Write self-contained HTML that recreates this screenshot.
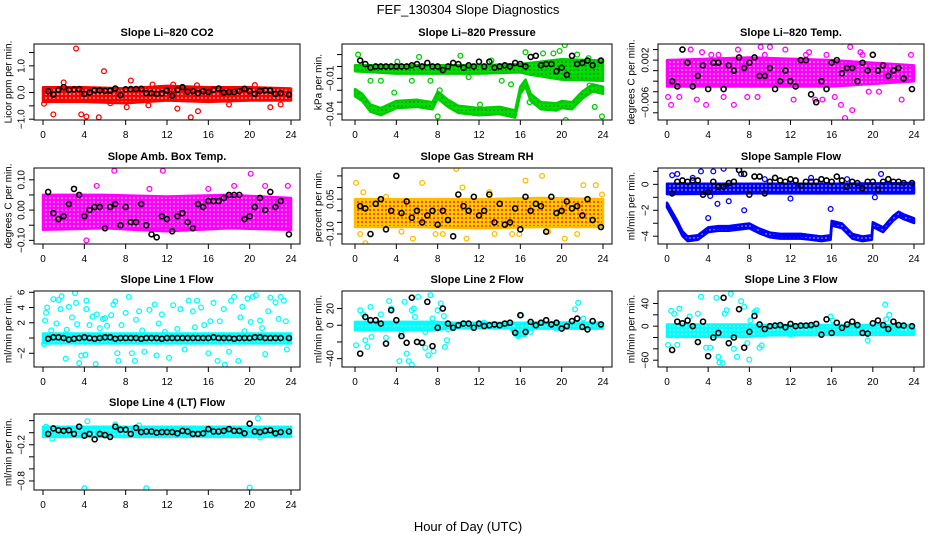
<!DOCTYPE html>
<html><head><meta charset="utf-8"><style>
html,body{margin:0;padding:0;background:#fff;}
svg{display:block;font-family:"Liberation Sans",sans-serif;}
</style></head><body>
<svg id="chart" width="936" height="540" viewBox="0 0 936 540" xmlns="http://www.w3.org/2000/svg">
<defs>
<pattern id="pat-red" width="4" height="4" patternUnits="userSpaceOnUse"><rect width="4" height="4" fill="#f00"/><circle cx="2" cy="2" r="0.8" fill="#fff"/></pattern>
<pattern id="pat-green" width="4" height="4" patternUnits="userSpaceOnUse"><rect width="4" height="4" fill="#0d0"/><circle cx="2" cy="2" r="0.7" fill="#050"/></pattern>
<pattern id="pat-magenta" width="4" height="4" patternUnits="userSpaceOnUse"><rect width="4" height="4" fill="#f0f"/><circle cx="2" cy="2" r="0.8" fill="#fff"/></pattern>
<pattern id="pat-orange" width="4" height="4" patternUnits="userSpaceOnUse"><rect width="4" height="4" fill="#ffd000"/><circle cx="2" cy="2" r="1.2" fill="#f40"/></pattern>
<pattern id="pat-blue" width="4" height="4" patternUnits="userSpaceOnUse"><rect width="4" height="4" fill="#00f"/><circle cx="2" cy="2" r="0.7" fill="#fff"/></pattern>
<pattern id="pat-cyan" width="4" height="4" patternUnits="userSpaceOnUse"><rect width="4" height="4" fill="#0ff"/><circle cx="2" cy="2" r="0.7" fill="#fff"/></pattern>
</defs>
<text x="468" y="14" font-size="13" text-anchor="middle">FEF_130304  Slope Diagnostics</text>
<text x="468" y="531" font-size="13" text-anchor="middle">Hour of Day (UTC)</text>
</svg>
<script>
const blackHours = [0.5,1,1.5,2,2.5,3,3.5,4,4.5,5,5.5,6,6.5,7,7.5,8,8.5,9,9.5,10,10.5,11,11.5,12,12.5,13,13.5,14,14.5,15,15.5,16,16.5,17,17.5,18,18.5,19,19.5,20,20.5,21,21.5,22,22.5,23,23.8];
const xTicks = [0,4,8,12,16,20,24];

const co2BandHours = [0,4,8,12,16,20,24];
const co2BandLo = [-0.35,-0.35,-0.4,-0.3,-0.35,-0.3,-0.3];
const co2BandHi = [0.2,0.2,0.15,0.25,0.2,0.2,0.15];
const co2Outliers = [[3.2,1.65],[5.9,0.8],[8.5,0.45],[1,-0.82],[3.7,-0.82],[4.2,-0.9],[5.4,-0.93],[14.3,-0.93],[15,-0.7],[8.1,-0.55],[0.1,-0.42],[10.2,-0.48],[13,-0.6],[22,-0.55],[23,-0.45],[2,0.38],[10.6,0.3],[14.9,0.27],[6.5,-0.4],[18,-0.45],[12.6,0.3],[20.5,0.28]];
const co2Black = [0.05,-0.08,0.1,0.2,0.1,0.12,0.13,-0.05,0,0.08,0.08,0.06,0.07,0.15,-0.1,0.12,0.13,0.13,0.14,-0.02,-0.02,-0.05,-0.03,0.07,-0.12,0.1,0.2,0.03,0.05,-0.02,0.05,0.02,0.1,0.15,0,0.02,0.02,0.05,0.14,0.05,-0.05,0.06,0.08,0.07,-0.05,-0.02,-0.08];

const presBandAHours = [0,4,8,12,16,17,20,24];
const presBandALo = [-0.004,-0.006,-0.006,-0.006,-0.005,-0.007,-0.011,-0.012];
const presBandAHi = [0.001,0.001,0.001,0.001,0.002,0.003,0.006,0.005];
const presBandBHours = [0,0.7,1.5,2.5,4,6,7.5,8,9,10,12,14,15.5,16,16.5,17,18,19.5,20,21,22,23,24];
const presBandBLo = [-0.025,-0.029,-0.038,-0.041,-0.035,-0.034,-0.036,-0.027,-0.034,-0.039,-0.041,-0.040,-0.043,-0.023,-0.017,-0.029,-0.036,-0.037,-0.035,-0.036,-0.027,-0.021,-0.023];
const presBandBHi = [-0.019,-0.023,-0.032,-0.035,-0.029,-0.028,-0.030,-0.021,-0.028,-0.033,-0.035,-0.034,-0.037,-0.017,-0.011,-0.023,-0.030,-0.031,-0.029,-0.030,-0.021,-0.015,-0.017];
const presOutliers = [[0.3,0.01],[1.5,-0.012],[2.5,-0.012],[3.8,-0.022],[4.1,0.004],[5.5,-0.012],[6.2,0.008],[7.3,-0.012],[8,-0.042],[8.2,-0.02],[10.2,0.009],[11,-0.009],[12.1,-0.032],[13.2,0.005],[14.2,-0.012],[15.1,-0.015],[16.5,0.012],[18.2,0.011],[19.2,0.011],[19.8,0.013],[20.3,0.018],[20.4,-0.045],[21.5,0.01],[22.6,0.007],[23.2,-0.034],[23.9,-0.042],[18.6,-0.004],[21.2,-0.008],[22.7,-0.016],[16.9,-0.03]];
const presBlack = [0.005,0.002,-0.001,0,0,0,0,0,0,0,0.001,0.002,0,0.003,0,0,-0.003,0,0.003,0.002,-0.001,0.001,0,0.004,0,0.004,-0.001,0,0.001,0,0.003,0.002,0,0.008,0.009,0.001,0.002,0.002,-0.004,-0.001,-0.007,0.009,0.002,0.003,0.005,0.001,0.005];

const tempBandHours = [0,8,16,24];
const tempBandLo = [-0.003,-0.003,-0.003,-0.002];
const tempBandHi = [0.002,0.0025,0.002,0.001];
const tempOutliers = [[0.1,-0.005],[0.4,-0.0065],[1.2,-0.005],[2.3,0.004],[2.9,-0.0055],[3.8,-0.0065],[4.3,0.003],[5.5,-0.005],[6.5,-0.0065],[6.9,0.004],[7.8,-0.005],[8.8,-0.005],[9.1,0.0045],[10,0.0045],[11.3,0.0065],[12.3,-0.0055],[13.5,0.003],[14.4,-0.0055],[15.1,-0.0055],[16.3,-0.005],[16.9,-0.0065],[17,0.0055],[17.3,-0.009],[18,-0.0075],[17.8,0.0045],[18.8,0.0035],[19.6,-0.004],[20.6,-0.004],[22.6,0.0055],[22.8,-0.0055],[23.7,0.003],[11.5,0.004],[5,0.003],[9.5,0.003],[13.8,0.0035],[15.5,0.003],[19,0.003],[3.4,0.0035]];
const tempBlack = [-0.002,-0.003,0.004,0.0015,-0.003,-0.001,0.001,-0.0035,0.0015,0.0015,-0.0035,0.001,0,0.0025,0.0005,0.0015,0.0025,-0.001,-0.001,0.0005,-0.0035,-0.002,0.0,-0.002,-0.003,0.002,0.002,-0.0045,-0.006,-0.002,-0.0035,0.0015,0.002,-0.0005,0.0005,0.0005,-0.002,0.0015,0.0,0.003,0,0.001,-0.001,0,0.0005,-0.0015,-0.0035];

const ambBandHours = [0,6,12,18,24];
const ambBandLo = [-0.065,-0.06,-0.07,-0.06,-0.065];
const ambBandHi = [0.05,0.05,0.045,0.05,0.04];
const ambOutliers = [[0.1,-0.13],[0.2,-0.15],[1.5,-0.18],[2,-0.18],[3.2,-0.19],[5.2,0.08],[6.2,-0.2],[7,-0.17],[6.9,0.13],[8,-0.19],[11.6,0.13],[12.3,-0.15],[13,-0.13],[14.5,-0.13],[16,0.07],[17.3,-0.13],[18.5,0.08],[20.1,0.12],[21.5,0.08],[23.7,0.08],[24,-0.17],[10.3,0.07],[9.3,-0.12],[4.2,-0.1]];
const ambBlack = [0.06,-0.01,-0.03,-0.02,0.02,0.07,0.05,-0.02,0.0,0.01,0.01,-0.06,0.01,0.02,-0.05,0.01,-0.04,-0.04,0.02,-0.05,-0.08,-0.09,-0.02,-0.03,-0.07,-0.02,-0.01,-0.04,-0.06,0.02,0.01,0.03,0.03,0.03,0.04,0.05,0.05,0.05,-0.03,-0.02,0.01,0.04,0.0,0.06,0.01,0.03,-0.08];

const rhBandHours = [0,6,12,18,24];
const rhBandLo = [-0.07,-0.07,-0.075,-0.07,-0.07];
const rhBandHi = [0.05,0.05,0.05,0.055,0.05];
const rhOutliers = [[0.1,0.12],[0.5,-0.1],[1,-0.14],[0.8,0.08],[4.5,-0.09],[5.6,-0.12],[6.5,0.12],[7.8,-0.1],[8.5,-0.1],[9.8,0.18],[10.4,0.1],[10.8,-0.12],[13.5,-0.1],[15.2,-0.1],[15.9,-0.1],[16.5,0.13],[18.1,0.15],[18.7,-0.09],[20.3,-0.12],[21.5,-0.1],[22.1,0.11],[23.3,0.11],[23.9,0.07],[13,0.08],[3,0.06]];
const rhBlack = [0.02,0.01,-0.1,0.03,0.05,-0.08,0.0,0.15,-0.01,0.04,-0.03,0.0,-0.05,-0.02,0.0,-0.06,0.0,-0.04,-0.11,0.07,0.02,0.0,0.06,-0.02,0.0,0.07,-0.05,0.03,-0.06,-0.05,0.01,-0.08,0.06,0.0,0.03,0.02,-0.09,0.06,-0.01,0.0,0.04,0.01,0.02,-0.02,0.05,-0.04,-0.07];

const sfBandAHours = [0,8,16,24];
const sfBandALo = [-0.75,-0.7,-0.7,-0.7];
const sfBandAHi = [0.05,0.05,0.05,0.1];
const sfBandBHours = [0,0.5,1,1.5,2,3,4,5,6,7,8,9,10,11,12,13,14,15,15.9,16,17,18,19,19.9,20,21,22,22.5,23,24];
const sfBandBMid = [-1.6,-2.3,-3,-3.8,-4.2,-4.1,-3.5,-3.4,-3.4,-3.3,-3.2,-3.6,-3.9,-4.0,-4.0,-4.0,-4.1,-4.2,-4.1,-3.0,-3.2,-4.0,-4.2,-4.1,-3.1,-3.5,-2.6,-2.3,-2.5,-2.8];
const sfOutliers = [[0.5,0.7],[1,0.8],[3.3,1.0],[4,-2.6],[4.5,1.0],[4.9,-1.5],[5.5,1.2],[6,-1.3],[6.8,1.4],[7.5,-2.0],[7.2,0.8],[9.5,0.4],[12,-1.1],[15.9,-1.9],[20.2,-1.0],[20.8,0.8],[14,0.5],[17.5,0.4],[2.5,0.5],[4.2,-0.9]];
const sfBlack = [-0.7,0.2,0.3,0.2,0.3,0.3,-0.8,-0.6,0.2,-0.2,-0.2,0.1,0.2,1.1,0.8,-0.8,0.6,0.6,-0.7,0.2,0.5,0.3,0.2,0.4,0.3,-0.1,0.2,0.2,0.2,0.4,0.3,0.2,0.6,0.3,-0.2,0.2,0.1,-0.3,0.2,0.2,-0.4,0.2,0.4,0.2,0.2,0.1,0.1];

const l1BandHours = [0,24];
const l1BandLo = [-0.7,-0.7];
const l1BandHi = [0.6,0.6];
const l1Outliers = [[0.1,-0.8],[0.2,2.3],[0.3,3.3],[0.4,4],[0.8,1],[1,5.1],[1.3,1.9],[1.5,5],[1.7,3.8],[1.8,5.5],[2.2,-2.7],[2.3,1.1],[2.5,4.1],[2.8,2.7],[3.1,5.9],[3.2,4.6],[3.3,1.8],[3.5,-3.3],[3.7,-2.3],[4.1,-2.2],[4.2,3.8],[4.2,4.9],[4.5,1.7],[4.8,2.8],[5.1,-3.4],[5.2,3.1],[5.5,1.3],[5.8,2.5],[6.2,1.6],[6.6,3],[6.8,4.4],[7,4.8],[7.2,-2],[7.3,-3],[7.6,1.7],[8,3.3],[8.3,5.4],[8.6,-2],[8.9,-3],[9,2.4],[9.3,3.5],[9.8,-1.8],[10.3,3.7],[10.8,4.4],[11,-2.3],[11.2,1.9],[11.5,3.1],[12.2,-2.6],[12.6,4.3],[13,1.2],[13.3,3.8],[13.7,-1.5],[14.1,4.9],[14.5,3.5],[14.9,4.9],[15.3,4],[15.6,1.7],[16,-2],[16.2,2.2],[16.5,4.6],[16.9,-3],[17.1,2.2],[17.5,3.8],[17.6,-3.5],[18,-1.8],[18.2,4.9],[18.5,5.4],[18.9,-3],[19.1,2.7],[19.3,4.1],[19.8,5.2],[20.1,2.1],[20.3,5.4],[20.6,5.6],[21,2.3],[21.5,-2.1],[21.8,3.5],[22,5.3],[22.5,4.7],[22.8,2.5],[23,5.4],[23.3,4.9],[23.6,-1.5],[23.5,2.2],[6,2.6],[9.6,1],[11.8,0.8],[14.7,1.4],[19.5,0.9],[21.2,1.3]];
const l1Black = [-0.1,0.1,0.1,0,-0.2,-0.1,0,0.1,0,-0.1,0,0.1,0.1,-0.1,0,0,0,0,-0.1,0,0,0,-0.1,0,0,0,0,0,0,0,0,0,0.1,0,0,0,-0.1,0,0,0,0.1,0.1,0,0,0,0,0];

const l2BandHours = [0,8,9,15,15.5,16.5,17,24];
const l2BandLo = [-6,-6,-3.5,-3.5,-13,-13,-4,-4];
const l2BandHi = [4,4,3,3,3,3,3.5,3];
const l2Outliers = [[0.1,-24],[0.5,18],[0.8,13],[1,-18],[1.2,-26],[1.5,22],[1.6,-14],[2.5,13],[3,-15],[3.3,29],[3.5,20],[4.3,-43],[4.5,-10],[4.8,28],[5,-34],[5.2,-43],[5.5,-47],[5.5,18],[5.8,10],[5.7,20],[6.1,34],[6.5,-21],[6.8,-27],[6.8,-8],[7.1,-36],[7.3,36],[7.6,-31],[7.5,8],[8,18],[8.3,26],[8.6,11],[8.9,-18],[8.7,-26],[9,-5],[15.8,-13],[16.1,12],[19.5,-4],[21.3,19],[21.6,27],[22.1,8],[17,-8],[12.5,3]];
const l2Black = [-34,10,6,6,2,-22,18,6,-13,-21,33,-20,-21,28,-25,-3,20,2,-3,0,2,2,-3,2,-1,0,1,0,2,3,-9,12,-8,4,0,3,6,1,3,-4,-1,5,8,-2,-5,5,1];

const l3BandHours = [0,8,10,24];
const l3BandLo = [-19,-19,-16,-15];
const l3BandHi = [3,3,2,2];
const l3Outliers = [[0.1,-33],[0.4,27],[0.7,22],[1,-33],[1.2,31],[2.2,17],[3,22],[3.3,52],[3.8,-38],[4.2,-38],[4.8,50],[5,-54],[5.1,-64],[5.4,-65],[5.6,22],[5.8,28],[6.2,57],[6.5,-40],[6.8,-54],[7.2,44],[7.5,34],[7.8,-30],[8,-59],[8.1,10],[8.5,25],[8.7,28],[9,-38],[9.2,-34],[15.9,17],[16.1,10],[19.5,-25],[21.2,38],[21.3,12],[21.6,20],[22.2,-5],[17.5,-10],[12,-15]];
const l3Black = [-42,8,5,10,0,-28,8,-53,-20,-12,50,-30,-20,30,-38,-10,18,3,-5,0,1,2,-2,4,0,1,1,2,4,-15,12,-12,6,-3,3,8,2,-12,-13,5,10,2,-5,8,2,1,0];

const l4BandHours = [0,24];
const l4BandLo = [-0.07,-0.07];
const l4BandHi = [0.1,0.1];
const l4Outliers = [[4,-0.92],[10,-0.92],[20,-0.91],[20.8,0.24],[4.3,0.19],[0.9,-0.1],[21,-0.08],[7,0.14],[0.3,0.1],[9.3,0.12]];
const l4Black = [-0.02,0.07,0.04,0.03,0.04,-0.02,0.1,-0.05,-0.02,-0.11,-0.02,-0.04,-0.07,0.1,0.05,0.05,-0.02,0.08,0.01,0.02,0.02,0,0.01,0.01,0.01,-0.01,0.03,0.02,-0.02,-0.02,-0.01,0.06,0.02,0.02,0.03,0.06,0.03,0.03,-0.01,0.15,0.02,0.01,0.03,0.04,-0.01,0.01,0.02];

const sfBandBLo = sfBandBMid.map(v => v - 0.18);
const sfBandBHi = sfBandBMid.map(v => v + 0.18);

const cols = [{x0:43,x24:291,left:34,right:300,ytitle:9,ylab:22},{x0:355,x24:603,left:342,right:612,ytitle:319,ylab:331},{x0:667,x24:914,left:658,right:924,ytitle:632,ylab:646}];
const rows = [44,168,291,414];
const H = 76;

const panels = [
 {name:'co2',title:'Slope Li–820 CO2',ytitle:'Licor ppm per min.',r:0,c:0,top:1.82,bot:-1.03,ticks:[-1,-0.5,0,0.5,1,1.5],labels:[[-1,'−1.0'],[0,'0.0'],[1,'1.0']],color:'#f00',pat:'pat-red',bands:[[co2BandHours,co2BandLo,co2BandHi]],out:co2Outliers,black:co2Black},
 {name:'pressure',title:'Slope Li–820 Pressure',ytitle:'kPa per min.',r:0,c:1,top:0.0189,bot:-0.045,ticks:[-0.04,-0.03,-0.02,-0.01,0,0.01],labels:[[-0.04,'−0.04'],[-0.01,'−0.01']],color:'#0c0',pat:'pat-green',bands:[[presBandAHours,presBandALo,presBandAHi],[presBandBHours,presBandBLo,presBandBHi]],out:presOutliers,black:presBlack},
 {name:'temp',title:'Slope Li–820 Temp.',ytitle:'degrees C per min.',r:0,c:2,top:0.00506,bot:-0.00937,ticks:[-0.008,-0.006,-0.004,-0.002,0,0.002,0.004],labels:[[-0.006,'−0.006'],[0.002,'0.002']],color:'#f0f',pat:'pat-magenta',bands:[[tempBandHours,tempBandLo,tempBandHi]],out:tempOutliers,black:tempBlack},
 {name:'amb-box-temp',title:'Slope Amb. Box Temp.',ytitle:'degrees C per min.',r:1,c:0,top:0.139,bot:-0.112,ticks:[-0.1,-0.05,0,0.05,0.1],labels:[[-0.1,'−0.10'],[0,'0.00'],[0.1,'0.10']],color:'#f0f',pat:'pat-magenta',bands:[[ambBandHours,ambBandLo,ambBandHi]],out:ambOutliers,black:ambBlack},
 {name:'gas-stream-rh',title:'Slope Gas Stream RH',ytitle:'percent per min.',r:1,c:1,top:0.184,bot:-0.143,ticks:[-0.1,-0.05,0,0.05,0.1,0.15],labels:[[-0.1,'−0.10'],[0.05,'0.05']],color:'#fb0',pat:'pat-orange',bands:[[rhBandHours,rhBandLo,rhBandHi]],out:rhOutliers,black:rhBlack},
 {name:'sample-flow',title:'Slope Sample Flow',ytitle:'ml/min per min.',r:1,c:2,top:1.26,bot:-4.6,ticks:[-4,-3,-2,-1,0,1],labels:[[-4,'−4'],[-2,'−2'],[0,'0']],color:'#00f',pat:'pat-blue',bands:[[sfBandAHours,sfBandALo,sfBandAHi],[sfBandBHours,sfBandBLo,sfBandBHi]],out:sfOutliers,black:sfBlack},
 {name:'line1-flow',title:'Slope Line 1 Flow',ytitle:'ml/min per min.',r:2,c:0,top:6.17,bot:-3.8,ticks:[-2,0,2,4,6],labels:[[-2,'−2'],[2,'2'],[4,'4'],[6,'6']],color:'#0ff',pat:'pat-cyan',bands:[[l1BandHours,l1BandLo,l1BandHi]],out:l1Outliers,black:l1Black},
 {name:'line2-flow',title:'Slope Line 2 Flow',ytitle:'ml/min per min.',r:2,c:1,top:41,bot:-50,ticks:[-40,-20,0,20],labels:[[-40,'−40'],[0,'0'],[20,'20']],color:'#0ff',pat:'pat-cyan',bands:[[l2BandHours,l2BandLo,l2BandHi]],out:l2Outliers,black:l2Black},
 {name:'line3-flow',title:'Slope Line 3 Flow',ytitle:'ml/min per min.',r:2,c:2,top:62,bot:-72,ticks:[-60,-40,-20,0,20,40],labels:[[-60,'−60'],[0,'0'],[40,'40']],color:'#0ff',pat:'pat-cyan',bands:[[l3BandHours,l3BandLo,l3BandHi]],out:l3Outliers,black:l3Black},
 {name:'line4-flow',title:'Slope Line 4 (LT) Flow',ytitle:'ml/min per min.',r:3,c:0,top:0.31,bot:-0.95,ticks:[-0.8,-0.6,-0.4,-0.2,0,0.2],labels:[[-0.8,'−0.8'],[-0.2,'−0.2']],color:'#0ff',pat:'pat-cyan',bands:[[l4BandHours,l4BandLo,l4BandHi]],out:l4Outliers,black:l4Black}
];

const svg = document.getElementById('chart');
const NS = 'http://www.w3.org/2000/svg';
function mk(tag, attrs, parent){const e=document.createElementNS(NS,tag);for(const k in attrs)e.setAttribute(k,attrs[k]);parent.appendChild(e);return e;}

panels.forEach((p, pi) => {
  const col = cols[p.c], top = rows[p.r], bottom = top + H;
  const xs = h => col.x0 + (col.x24 - col.x0) * h / 24;
  const ys = v => top + (p.top - v) / (p.top - p.bot) * H;
  const g = mk('g', {}, svg);
  
  
  const clipId = 'clip' + pi;
  const cp = mk('clipPath', {id: clipId}, g);
  mk('rect', {x: col.left, y: top, width: col.right - col.left, height: H}, cp);
  const plot = mk('g', {'clip-path': 'url(#' + clipId + ')'}, g);
  
  
  p.bands.forEach(b => {
    const [hx, lo, hi] = b;
    let d = '';
    hx.forEach((h, i) => { d += (i ? 'L' : 'M') + xs(h).toFixed(1) + ',' + ys(hi[i]).toFixed(1); });
    for (let i = hx.length - 1; i >= 0; i--) d += 'L' + xs(hx[i]).toFixed(1) + ',' + ys(lo[i]).toFixed(1);
    d += 'Z';
    const band = mk('path', {d: d, fill: 'url(#' + p.pat + ')', stroke: p.color, 'stroke-width': 2.5, 'stroke-linejoin': 'round'}, plot);
    
    
  });
  p.out.forEach(o => {
    const c = mk('circle', {cx: xs(o[0]), cy: ys(o[1]), r: 2.4, fill: 'none', stroke: p.color, 'stroke-width': 1.3}, plot);
    
    
  });
  p.black.forEach((v, i) => {
    const c = mk('circle', {cx: xs(blackHours[i]), cy: ys(v), r: 2.5, fill: 'none', stroke: '#000', 'stroke-width': 1.6}, plot);
    
    
  });
  const box = mk('rect', {x: col.left, y: top, width: col.right - col.left, height: H, fill: 'none', stroke: '#000', 'stroke-width': 1}, g);
  
  
  const t = mk('text', {x: (col.left + col.right) / 2, y: top - 8, 'font-size': 11, 'font-weight': 'bold', 'text-anchor': 'middle'}, g);
  t.textContent = p.title;
  
  
  const yt = mk('text', {x: col.ytitle, y: (top + bottom) / 2, 'font-size': 10, 'text-anchor': 'middle', transform: 'rotate(-90 ' + col.ytitle + ' ' + (top + bottom) / 2 + ')', 'dominant-baseline': 'middle'}, g);
  yt.textContent = p.ytitle;
  
  
  p.ticks.forEach(v => {
    const y = ys(v);
    const tk = mk('line', {x1: col.left - 5, x2: col.left, y1: y, y2: y, stroke: '#000'}, g);
    
    
  });
  p.labels.forEach(l => {
    const y = ys(l[0]);
    const tl = mk('text', {x: col.ylab, y: y, 'font-size': 10, 'text-anchor': 'middle', 'dominant-baseline': 'middle', transform: 'rotate(-90 ' + col.ylab + ' ' + y + ')'}, g);
    tl.textContent = l[1];
    
    
  });
  xTicks.forEach(h => {
    const x = xs(h);
    const tk = mk('line', {x1: x, x2: x, y1: bottom, y2: bottom + 5, stroke: '#000'}, g);
    
    
    const tl = mk('text', {x: x, y: bottom + 18, 'font-size': 10, 'text-anchor': 'middle'}, g);
    tl.textContent = h;
    
    
  });
});
</script>
</body></html>
